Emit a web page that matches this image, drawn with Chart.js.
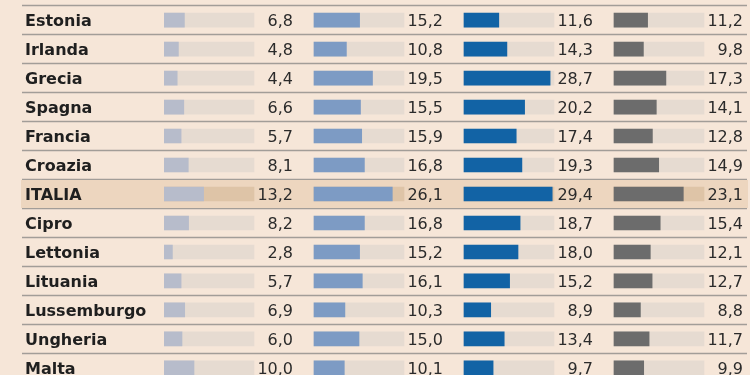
<!DOCTYPE html>
<html>
<head>
<meta charset="utf-8">
<script src="https://cdn.jsdelivr.net/npm/chart.js@4.4.1/dist/chart.umd.min.js"></script>
<style>
    html, body { margin: 0; padding: 0; background: #f6e6d8; overflow: hidden; }
    #wrap { width: 750px; height: 396px; margin-top: -4px; }
</style>
</head>
<body>
<div id="wrap"><canvas id="tabella"></canvas></div>
<script>
//--------------------------------------------Variables

const paesi = ['Estonia', 'Irlanda', 'Grecia', 'Spagna', 'Francia', 'Croazia', 'ITALIA',
    'Cipro', 'Lettonia', 'Lituania', 'Lussemburgo', 'Ungheria', 'Malta'];

const serie1 = [6.8, 4.8, 4.4, 6.6, 5.7, 8.1, 13.2, 8.2, 2.8, 5.7, 6.9, 6.0, 10.0];
const serie2 = [15.2, 10.8, 19.5, 15.5, 15.9, 16.8, 26.1, 16.8, 15.2, 16.1, 10.3, 15.0, 10.1];
const serie3 = [11.6, 14.3, 28.7, 20.2, 17.4, 19.3, 29.4, 18.7, 18.0, 15.2, 8.9, 13.4, 9.7];
const serie4 = [11.2, 9.8, 17.3, 14.1, 12.8, 14.9, 23.1, 15.4, 12.1, 12.7, 8.8, 11.7, 9.9];

const fondoScala = 30;      // lunghezza della barra grigia di fondo
const passoColonna = 50;    // ogni colonna occupa 50 unità sull'asse x
const colori = ['#b7bccb', '#7d9bc4', '#1263a5', '#6c6c6c'];
const evidenziato = 'ITALIA';

const tutteLeSerie = [serie1, serie2, serie3, serie4];

//--------------------------------------------Functions

const fmt = v => v.toFixed(1).replace('.', ',');

const datasets = [];
tutteLeSerie.forEach((serie, k) => {
    const base = k * passoColonna;
    datasets.push({
        label: 'fondo' + k,
        data: serie.map(() => [base, base + fondoScala]),
        backgroundColor: paesi.map(p => p === evidenziato ? '#dec4a7' : '#e6dbd1'),
        order: 2,
    });
    datasets.push({
        label: 'serie' + k,
        data: serie.map(v => [base, base + v]),
        backgroundColor: colori[k],
        order: 1,
    });
});

const righe = {
    id: 'righe',
    beforeDraw(chart) {
        const { ctx, scales: { y } } = chart;
        const passo = y.getPixelForValue(1) - y.getPixelForValue(0);
        ctx.save();
        ctx.strokeStyle = '#a29d98';
        ctx.lineWidth = 1.5;
        for (let i = 0; i < paesi.length; i++) {
            const yy = y.getPixelForValue(i) - passo / 2;
            ctx.beginPath();
            ctx.moveTo(22, yy);
            ctx.lineTo(747, yy);
            ctx.stroke();
        }
        const yc = y.getPixelForValue(paesi.indexOf(evidenziato));
        ctx.fillStyle = '#edd6bf';
        ctx.fillRect(21, yc - 14, 727, 28);
        ctx.restore();
    },
    afterDatasetsDraw(chart) {
        const { ctx, scales: { x, y } } = chart;
        ctx.save();
        ctx.font = '16px "DejaVu Sans"';
        ctx.fillStyle = '#2b2b2b';
        ctx.textAlign = 'right';
        ctx.textBaseline = 'middle';
        tutteLeSerie.forEach((serie, k) => {
            const xx = x.getPixelForValue(k * passoColonna + 43);
            serie.forEach((v, i) => {
                ctx.fillText(fmt(v), xx, y.getPixelForValue(i) + 2);
            });
        });
        ctx.restore();
    }
};

const config = {
    type: 'bar',
    data: {
        labels: paesi,
        datasets: datasets,
    },
    options: {
        indexAxis: 'y',
        responsive: true,
        maintainAspectRatio: false,
        animation: false,
        datasets: {
            bar: {
                grouped: false,
                barThickness: 14,
                borderWidth: 0,
                borderSkipped: false,
            }
        },
        layout: {
            padding: { left: 25, right: 0, top: 4, bottom: 4 }
        },
        plugins: {
            legend: { display: false },
            title: { display: false },
            tooltip: { enabled: false },
        },
        scales: {
            x: {
                display: false,
                min: 0,
                max: 195.33,
            },
            y: {
                afterFit(scale) { scale.width = 139; },
                grid: { display: false },
                border: { display: false },
                ticks: {
                    crossAlign: 'far',
                    color: '#1f1f1f',
                    padding: 0,
                    labelOffset: 2,
                    font: { family: 'DejaVu Sans', size: 16, weight: 'bold' },
                }
            }
        }
    },
    plugins: [righe],
};

new Chart(document.getElementById('tabella'), config);

//--------------------------------------------Events
</script>
</body>
</html>
